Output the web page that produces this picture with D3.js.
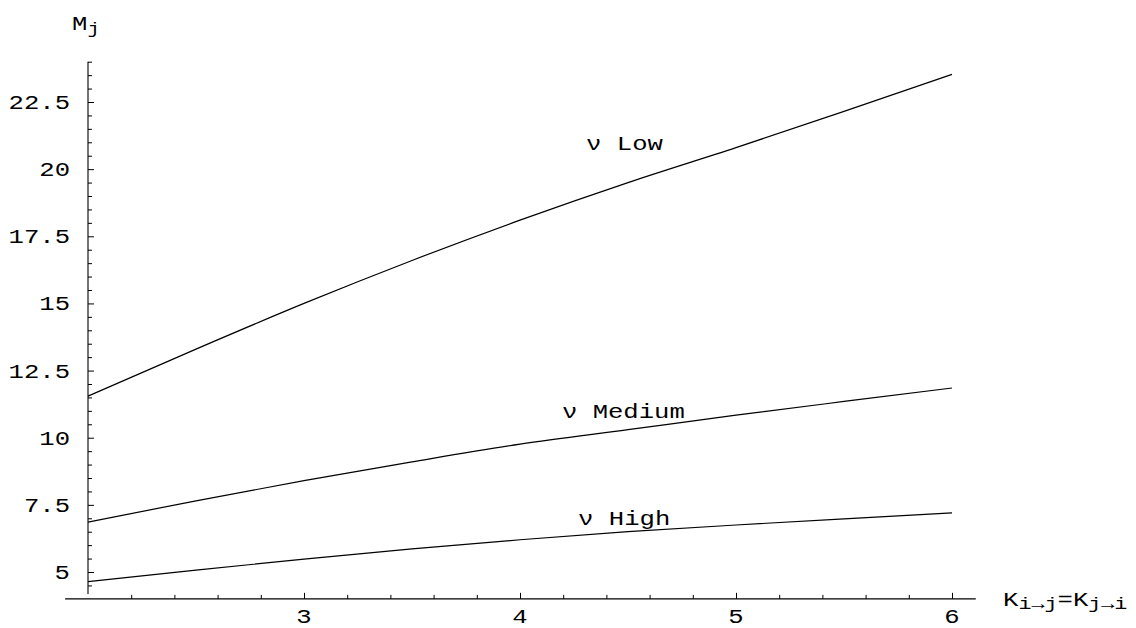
<!DOCTYPE html>
<html>
<head>
<meta charset="utf-8">
<script src="https://cdn.jsdelivr.net/npm/d3@7/dist/d3.min.js"></script>
<style>
body { margin:0; background:#fff; }
text { font-family: "Liberation Mono", "DejaVu Sans Mono", monospace; fill:#000; }
</style>
</head>
<body>
<svg id="chart" width="1136" height="628"></svg>
<script>
// values
var kVals = [2, 2.5, 3, 3.5, 4, 4.5, 5, 5.5, 6];
var nuLow = [11.55, 13.3, 15.0, 16.6, 18.1, 19.5, 20.8, 22.15, 23.53];
var nuMedium = [6.86, 7.65, 8.4, 9.1, 9.76, 10.3, 10.84, 11.35, 11.85];
var nuHigh = [4.64, 5.07, 5.48, 5.86, 6.2, 6.5, 6.75, 6.98, 7.2];
var seriesNames = ["\u03BD Low", "\u03BD Medium", "\u03BD High"];

var xMajor = [3, 4, 5, 6];
var xMinor = [2.2, 2.4, 2.6, 2.8, 3.2, 3.4, 3.6, 3.8, 4.2, 4.4, 4.6, 4.8, 5.2, 5.4, 5.6, 5.8];
var yMajor = [5, 7.5, 10, 12.5, 15, 17.5, 20, 22.5];
var yMajorLabels = ["5", "7.5", "10", "12.5", "15", "17.5", "20", "22.5"];
var yMinor = [4.5, 5.5, 6, 6.5, 7, 8, 8.5, 9, 9.5, 10.5, 11, 11.5, 12, 13, 13.5, 14, 14.5,
              15.5, 16, 16.5, 17, 18, 18.5, 19, 19.5, 20.5, 21, 21.5, 22, 23, 23.5, 24];

var svg = d3.select("#chart");
var sx = 1.28; // text in the picture is stretched horizontally

var x = d3.scaleLinear().domain([2, 6]).range([88, 952]);
var y = d3.scaleLinear().domain([5, 22.5]).range([572, 102]);

// axis lines
svg.append("line").attr("x1", x(1.894)).attr("x2", x(6.11)).attr("y1", y(4)).attr("y2", y(4))
    .attr("stroke", "#000").attr("stroke-width", 1.1);
svg.append("line").attr("x1", x(2)).attr("x2", x(2)).attr("y1", y(4.18)).attr("y2", y(24))
    .attr("stroke", "#000").attr("stroke-width", 1.1);

function ticks(axis, vals, size, tr){
    var g = svg.append("g").attr("transform", tr)
        .call(axis.tickValues(vals).tickSizeInner(size).tickSizeOuter(0).tickFormat(""));
    g.select(".domain").remove();
    g.selectAll("line").attr("stroke", "#000").attr("stroke-width", 1);
}
ticks(d3.axisBottom(x), xMajor, -6, "translate(0," + y(4) + ")");
ticks(d3.axisBottom(x), xMinor, -4, "translate(0," + y(4) + ")");
ticks(d3.axisLeft(y), yMajor, -6, "translate(" + x(2) + ",0)");
ticks(d3.axisLeft(y), yMinor, -4, "translate(" + x(2) + ",0)");

function stretched(px, py){
    return svg.append("g").attr("transform", "translate(" + px + "," + py + ") scale(" + sx + ",1)");
}

// tick labels
yMajor.forEach(function(v, i){
    stretched(70, y(v)).append("text").attr("font-size", 20).attr("text-anchor", "end")
        .attr("dy", "0.35em").text(yMajorLabels[i]);
});
xMajor.forEach(function(v){
    stretched(x(v), 623).append("text").attr("font-size", 20).attr("text-anchor", "middle").text(v);
});

// axis titles
var mt = stretched(72, 30).append("text").attr("font-size", 20);
mt.append("tspan").text("M");
mt.append("tspan").attr("font-size", 16).attr("dy", 4).text("j");

var kt = stretched(1003, 606).append("text").attr("font-size", 20);
kt.append("tspan").text("K");
kt.append("tspan").attr("font-size", 17).attr("dy", 3).text("i\u2192j");
kt.append("tspan").attr("dy", -3).text("=K");
kt.append("tspan").attr("font-size", 17).attr("dy", 3).text("j\u2192i");

// curves
var line = d3.line().x(function(d){ return x(d[0]); }).y(function(d){ return y(d[1]); })
    .curve(d3.curveMonotoneX);
[nuLow, nuMedium, nuHigh].forEach(function(s){
    svg.append("path").datum(d3.zip(kVals, s)).attr("d", line)
        .attr("fill", "none").attr("stroke", "#000").attr("stroke-width", 1.2);
});

// curve labels
var labelPos = [[4.306, 150], [4.194, 418], [4.269, 525]];
seriesNames.forEach(function(n, i){
    stretched(x(labelPos[i][0]), labelPos[i][1]).append("text").attr("font-size", 20).text(n);
});
</script>
</body>
</html>
